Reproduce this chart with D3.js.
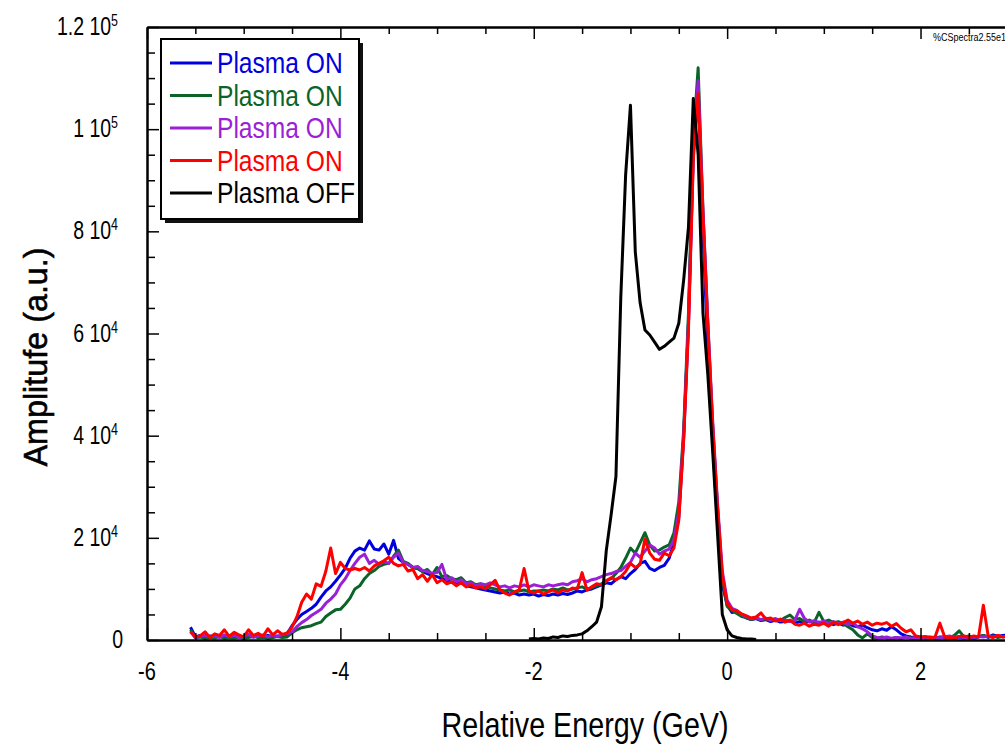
<!DOCTYPE html>
<html>
<head>
<meta charset="utf-8">
<script src="https://cdn.jsdelivr.net/npm/d3@7"></script>
<style>
body { margin: 0; background: #fff; }
svg text { font-family: "Liberation Sans", Arial, sans-serif; fill: #000; }
</style>
</head>
<body>
<svg id="chart" width="1005" height="748"></svg>
<script>
// energy grids (GeV), sampled every 0.05
var onStart = -5.55, offStart = -2.05, step = 0.05;
var energyOn = d3.range(170).map(function(i) { return +(onStart + i * step).toFixed(2); });
var energyOff = d3.range(48).map(function(i) { return +(offStart + i * step).toFixed(2); });

// amplitudes in units of 10^3
var blueOn = [2.5, 0.6, 0.9, 0.5, 0.8, 0.6, 0.9, 0.5, 0.7, 0.6, 0.8, 0.5, 0.7, 0.6, 0.8, 0.5, 0.9, 0.6, 0.8, 0.7, 1.2,
  2.8, 4.0, 5.0, 5.6, 6.2, 7.0, 8.4, 9.6, 10.4, 11.5, 12.7, 14.0, 16.0, 17.4, 18.0, 17.6, 19.4, 17.8, 17.6, 18.8, 16.8, 19.5, 16.0, 15.2, 14.8, 14.2, 14.0, 13.4, 13.0, 12.6, 12.4,
  12.0, 11.6, 11.3, 11.0, 11.2, 10.6, 10.4, 10.2, 10.0, 9.8, 9.6, 9.4, 9.2, 9.4, 9.0, 9.2, 8.8, 9.0, 8.8, 9.0,
  8.6, 8.9, 8.7, 9.0, 8.8, 9.1, 8.9, 9.2, 9.6, 9.4, 9.8, 10.0, 10.4, 10.8, 11.2, 11.0, 11.8, 12.4, 12.0, 13.0,
  13.8, 15.0, 15.4, 14.0, 13.6, 14.2, 14.6, 16.0,
  19.0, 24.0, 39.5, 62.0, 95.0, 108.0, 80.0, 57.0, 39.0, 23.0, 11.0, 6.8, 5.4,
  5.6, 4.8, 4.3, 4.0, 4.2, 3.8, 4.0, 3.6, 3.9, 3.5, 3.6, 3.8, 3.3, 3.6, 3.4, 3.7, 3.3, 3.5, 3.2, 3.4,
  3.0, 3.3, 2.9, 3.2, 2.8, 2.6, 2.9, 2.4, 2.0, 1.8, 2.2, 1.9, 2.6, 2.0, 1.2, 0.8, 0.6, 0.5, 0.6, 0.4,
  0.5, 0.3, 0.6, 0.4, 0.5, 0.3, 0.6, 0.4, 0.5, 0.3, 0.6, 0.9, 0.5, 1.0, 0.7, 0.9, 1.0];

var greenOn = [2.0, 0.4, 0.6, 0.3, 0.5, 0.4, 0.7, 0.3, 0.5, 0.4, 0.6, 0.3, 0.5, 0.8, 0.4, 0.6, 0.3, 0.5, 0.7, 0.5, 0.6,
  1.4, 2.0, 2.4, 2.6, 2.8, 3.2, 3.5, 4.6, 5.3, 5.9, 6.0, 7.0, 8.2, 10.0, 10.6, 12.0, 13.0, 13.6, 14.4, 14.8, 15.0, 16.4, 17.6, 15.4, 15.0, 14.2, 14.0, 13.4, 13.8, 12.8, 14.2,
  12.4, 12.6, 12.0, 11.8, 12.2, 11.2, 11.4, 10.8, 11.0, 10.6, 10.2, 10.0, 9.8, 9.6, 9.8, 9.4, 9.6, 9.8, 9.4, 9.6,
  9.6, 9.8, 9.6, 10.0, 9.8, 10.2, 9.8, 10.0, 10.2, 10.4, 10.0, 10.2, 10.6, 11.0, 11.6, 12.0, 13.0, 14.2, 16.0, 18.0,
  17.0, 19.0, 21.0, 18.6, 17.4, 17.6, 18.2, 18.6,
  21.0, 27.0, 41.0, 64.0, 98.0, 112.0, 84.0, 62.0, 42.0, 26.0, 12.0, 6.6, 5.8,
  5.2, 4.6, 4.4, 4.0, 4.3, 3.9, 4.2, 3.8, 4.1, 3.8, 4.4, 4.9, 4.0, 4.2, 3.6, 3.9, 3.4, 5.4, 3.6, 3.9,
  3.4, 3.6, 3.2, 2.6, 2.0, 1.0, 0.4, 1.2, 0.5, 0.3, 0.6, 0.4, 0.3, 0.5, 0.3, 0.6, 0.4, 0.3, 0.5, 0.4,
  0.6, 0.3, 0.5, 0.7, 0.4, 0.9, 1.8, 0.6, 0.8, 0.5, 0.7, 0.9, 0.6, 0.8, 0.5, 0.7, 0.6];

var purpleOn = [1.6, 0.5, 0.7, 0.9, 0.6, 0.8, 0.5, 1.0, 0.6, 0.9, 0.5, 0.7, 1.1, 0.6, 0.8, 1.0, 0.6, 0.9, 0.7, 1.0, 1.2,
  1.6, 2.6, 3.4, 4.0, 4.8, 5.4, 6.0, 7.2, 8.0, 9.0, 10.8, 12.0, 13.6, 15.0, 16.2, 16.8, 15.0, 15.6, 14.8, 15.4, 15.0, 16.2, 17.0, 15.2, 14.8, 14.2, 14.4, 13.6, 13.4, 13.0, 13.2,
  14.8, 11.8, 12.2, 11.4, 11.8, 11.0, 11.2, 10.6, 11.0, 10.8, 11.2, 10.8, 10.4, 10.6, 10.2, 10.6, 10.4, 10.8, 10.4, 10.8,
  10.6, 10.4, 10.8, 10.6, 10.8, 11.0, 10.8, 11.4, 11.6, 12.0, 11.4, 11.8, 12.0, 12.4, 12.8, 13.0, 13.4, 13.6, 14.4, 15.2,
  17.0, 16.2, 17.4, 18.6, 18.0, 16.8, 17.4, 17.8,
  19.6, 25.0, 40.0, 62.0, 96.0, 109.5, 84.0, 62.5, 43.0, 27.0, 13.5, 7.8, 6.2,
  5.8, 5.0, 4.6, 4.2, 4.4, 4.0, 4.3, 3.9, 4.2, 3.8, 3.9, 3.6, 3.9, 6.0, 4.2, 3.5, 3.8, 3.4, 3.7, 3.3,
  3.6, 3.2, 3.5, 3.0, 3.3, 2.6, 2.2, 1.6, 0.8, 0.5, 0.4, 0.6, 0.3, 0.5, 0.4, 0.6, 0.3, 0.5, 0.4, 0.6,
  0.3, 0.5, 0.4, 0.6, 0.8, 0.5, 0.7, 0.4, 0.6, 0.5, 0.7, 0.6, 0.8, 0.5, 0.9, 0.6, 0.8];

var redOn = [1.6, 0.6, 0.8, 1.6, 0.5, 1.2, 0.9, 2.0, 0.7, 1.5, 1.0, 0.6, 2.0, 0.9, 1.3, 0.7, 2.2, 1.0, 1.8, 1.1, 1.4,
  2.5, 4.5, 7.4, 9.0, 8.0, 11.0, 10.5, 13.5, 18.0, 13.0, 15.2, 14.0, 13.7, 14.0, 13.7, 14.2, 13.5, 14.5, 15.0, 15.5, 16.2, 15.0, 14.5, 14.8, 13.5, 13.8, 12.0, 12.8, 11.5, 12.8, 11.2,
  11.8, 11.0, 11.4, 10.6, 11.2, 10.4, 10.8, 10.2, 10.4, 10.0, 10.8, 11.7, 9.8, 9.2, 8.8, 9.4, 9.8, 14.0, 9.6, 9.2,
  9.6, 9.0, 9.4, 9.8, 9.2, 9.8, 9.6, 10.2, 10.0, 13.2, 9.8, 10.4, 11.0, 10.8, 11.6, 12.2, 11.8, 12.4, 13.4, 15.0,
  14.2, 14.8, 19.8, 17.0, 15.8, 15.6, 17.0, 16.5,
  18.0, 23.5, 39.1, 60.7, 93.9, 107.0, 83.2, 61.3, 42.1, 26.0, 12.7, 7.2, 5.9,
  5.7, 5.1, 4.7, 4.3, 4.5, 5.3, 4.1, 4.3, 3.7, 4.1, 3.5, 3.9, 3.1, 2.9, 3.3, 2.7, 3.1, 2.9, 3.3, 2.7,
  3.5, 3.0, 3.4, 3.9, 3.3, 3.7, 3.1, 3.5, 2.9, 3.3, 3.1, 3.4, 2.7, 3.2, 2.3, 1.6, 2.0, 0.8, 0.6, 0.7,
  0.5, 0.6, 3.3, 0.6, 0.5, 0.4, 0.7, 0.8, 0.5, 0.8, 0.6, 6.8, 0.8, 0.5, 0.9, 0.6, 0.8];

var blackOff = [0.2, 0.3, 0.2, 0.4, 0.3, 0.6, 0.5, 0.8, 0.7, 0.9, 1.0,
  1.2, 1.8, 2.6, 3.5, 6.5, 17.5, 24.5, 32.0, 67.0, 91.0,
  104.7, 76.0, 66.0, 60.7, 59.7, 58.3, 56.9, 57.5, 58.3, 59.1,
  62.0, 70.4, 80.8, 106.0, 95.0, 64.0, 52.0, 37.0, 21.0, 5.0,
  2.0, 0.8, 0.5, 0.3, 0.2, 0.2, 0.1];

var seriesNames = ["Plasma ON", "Plasma ON", "Plasma ON", "Plasma ON", "Plasma OFF"];
var seriesColors = ["#0000dd", "#0a6428", "#9a1fd6", "#ff0000", "#000000"];

var xMajor = [-6, -4, -2, 0, 2, 4];
var xTickText = ["-6", "-4", "-2", "0", "2", "4"];
var yMajor = [0, 20, 40, 60, 80, 100, 120];
var yTickText = [["0", ""], ["2 10", "4"], ["4 10", "4"], ["6 10", "4"], ["8 10", "4"], ["1 10", "5"], ["1.2 10", "5"]];

var series = [
  { name: seriesNames[0], color: seriesColors[0], energy: energyOn, values: blueOn },
  { name: seriesNames[1], color: seriesColors[1], energy: energyOn, values: greenOn },
  { name: seriesNames[2], color: seriesColors[2], energy: energyOn, values: purpleOn },
  { name: seriesNames[3], color: seriesColors[3], energy: energyOn, values: redOn },
  { name: seriesNames[4], color: seriesColors[4], energy: energyOff, values: blackOff }
];

var svg = d3.select("#chart");
var plotLeft = 147, plotTop = 27, plotBottom = 640, plotRight = 1005;

var x = d3.scaleLinear().domain([-6, 4]).range([plotLeft, plotLeft + 10 * 96.69]);
var y = d3.scaleLinear().domain([0, 120]).range([plotBottom, plotTop]);

// text drawn horizontally squeezed (narrow Helvetica look)
function narrowText(parent, px, py, size, anchor, squeeze) {
  return parent.append("g")
    .attr("transform", "translate(" + px + "," + py + ") scale(" + (squeeze || 0.82) + ",1)")
    .append("text")
    .attr("font-size", size)
    .attr("text-anchor", anchor);
}

svg.append("defs").append("clipPath").attr("id", "plotClip")
   .append("rect").attr("x", plotLeft).attr("y", plotTop - 2)
   .attr("width", plotRight - plotLeft).attr("height", plotBottom - plotTop + 2);

// curves
var line = d3.line()
  .x(function(d) { return x(d[0]); })
  .y(function(d) { return y(d[1]); });

svg.append("g").attr("clip-path", "url(#plotClip)")
  .selectAll("path")
  .data(series)
  .enter()
  .append("path")
  .attr("fill", "none")
  .attr("stroke", function(d) { return d.color; })
  .attr("stroke-width", 3)
  .attr("stroke-linejoin", "round")
  .attr("d", function(d) {
    return line(d.energy.map(function(e, i) { return [e, d.values[i]]; }));
  });

// axes (ticks point inward)
var xMinor = d3.range(-6, 4.01, 0.5).filter(function(v) { return v % 2 !== 0; });
var yMinor = d3.range(0, 120.01, 5).filter(function(v) { return v % 20 !== 0; });

function styleAxis(g) {
  g.selectAll("path").attr("stroke", "#000").attr("stroke-width", 2);
  g.selectAll("line").attr("stroke", "#000").attr("stroke-width", 1.5);
}

svg.append("g").attr("transform", "translate(0," + plotBottom + ")")
  .call(d3.axisBottom(x).tickValues(xMinor).tickSize(-7).tickSizeOuter(0).tickFormat(""))
  .call(styleAxis);
svg.append("g").attr("transform", "translate(0," + plotBottom + ")")
  .call(d3.axisBottom(x).tickValues(xMajor).tickSize(-12).tickSizeOuter(0).tickFormat(""))
  .call(styleAxis);

svg.append("g").attr("transform", "translate(0," + plotTop + ")")
  .call(d3.axisTop(x).tickValues(xMinor).tickSize(-7).tickSizeOuter(0).tickFormat(""))
  .call(styleAxis);
svg.append("g").attr("transform", "translate(0," + plotTop + ")")
  .call(d3.axisTop(x).tickValues(xMajor).tickSize(-12).tickSizeOuter(0).tickFormat(""))
  .call(styleAxis);

svg.append("g").attr("transform", "translate(" + plotLeft + ",0)")
  .call(d3.axisLeft(y).tickValues(yMinor).tickSize(-8).tickSizeOuter(0).tickFormat(""))
  .call(styleAxis);
svg.append("g").attr("transform", "translate(" + plotLeft + ",0)")
  .call(d3.axisLeft(y).tickValues(yMajor).tickSize(-12).tickSizeOuter(0).tickFormat(""))
  .call(styleAxis);

// x tick labels
var xLab = svg.append("g");
xMajor.forEach(function(v, i) {
  if (x(v) > plotRight) return;
  narrowText(xLab, x(v), 680, 25, "middle", 0.8).text(xTickText[i]);
});

// y tick labels with powers of ten
var yLab = svg.append("g");
yMajor.forEach(function(v, i) {
  var t = narrowText(yLab, i === 0 ? 123 : 118, y(v) + 8, 25, "end", 0.78);
  t.append("tspan").text(yTickText[i][0]);
  t.append("tspan").attr("font-size", 16).attr("dy", -9).text(yTickText[i][1]);
});

// axis titles
narrowText(svg, 585, 737, 35, "middle", 0.82).text("Relative Energy (GeV)");

svg.append("g")
  .attr("transform", "translate(47,357) rotate(-90) scale(0.98,1)")
  .append("text")
  .attr("text-anchor", "middle")
  .attr("font-size", 33)
  .attr("stroke", "#000")
  .attr("stroke-width", 0.6)
  .text("Amplitufe (a.u.)");

narrowText(svg, 933, 41, 11, "start", 0.82).attr("fill", "#222").text("%CSpectra2.55e1");

// legend
var legend = svg.append("g");
legend.append("rect").attr("x", 165).attr("y", 43).attr("width", 198).attr("height", 180).attr("fill", "#111");
legend.append("rect").attr("x", 161).attr("y", 39).attr("width", 198).attr("height", 180)
  .attr("fill", "#fff").attr("stroke", "#000").attr("stroke-width", 2);

series.forEach(function(d, i) {
  var ly = 63 + i * 32.5;
  legend.append("line")
    .attr("x1", 170).attr("x2", 212).attr("y1", ly).attr("y2", ly)
    .attr("stroke", d.color)
    .attr("stroke-width", 3);
  narrowText(legend, 217, ly + 10, 30, "start", 0.82).style("fill", d.color).text(d.name);
});
</script>
</body>
</html>
